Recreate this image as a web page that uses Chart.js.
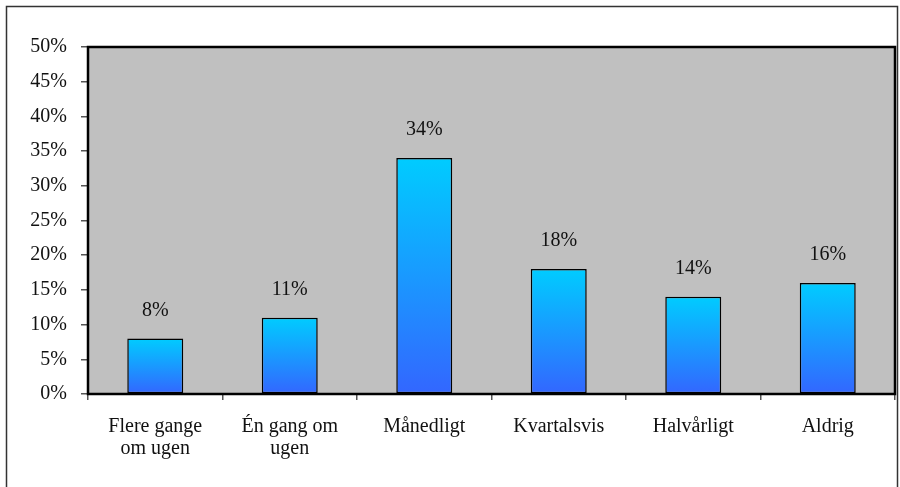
<!DOCTYPE html>
<html>
<head>
<meta charset="utf-8">
<script src="https://cdn.jsdelivr.net/npm/chart.js@4/dist/chart.umd.min.js"></script>
<style>
  html, body { margin: 0; padding: 0; background: #fff; }
  #wrap { width: 900px; height: 487px; }
</style>
</head>
<body>
<div id="wrap"><canvas id="freqChart" width="900" height="487"></canvas></div>
<script>
const categories = [['Flere gange', 'om ugen'], ['Én gang om', 'ugen'], 'Månedligt', 'Kvartalsvis', 'Halvårligt', 'Aldrig'];
const shares = [8, 11, 34, 18, 14, 16];
const yTicks = [0, 5, 10, 15, 20, 25, 30, 35, 40, 45, 50];

const FONT = "'Liberation Serif', 'DejaVu Serif', serif";

// gray plot area, black frame, outer border and value labels
const framePlugin = {
  id: 'frame',
  beforeDraw(chart) {
    const { ctx, chartArea: a } = chart;
    ctx.save();
    ctx.fillStyle = '#fff';
    ctx.fillRect(0, 0, chart.width, chart.height);
    ctx.strokeStyle = '#333';
    ctx.lineWidth = 1.5;
    ctx.strokeRect(6.5, 6.5, 891, 500);
    ctx.fillStyle = '#c0c0c0';
    ctx.fillRect(a.left, a.top, a.right - a.left, a.bottom - a.top);
    ctx.restore();
  },
  afterDatasetsDraw(chart) {
    const { ctx, chartArea: a } = chart;
    ctx.save();
    ctx.strokeStyle = '#000';
    ctx.lineWidth = 2.5;
    ctx.strokeRect(a.left, a.top, a.right - a.left, a.bottom - a.top);
    ctx.fillStyle = '#111';
    ctx.font = '20px ' + FONT;
    ctx.textAlign = 'center';
    ctx.textBaseline = 'middle';
    chart.getDatasetMeta(0).data.forEach((bar, i) => {
      ctx.fillText(shares[i] + '%', bar.x, bar.y - 28);
    });
    ctx.restore();
  }
};

new Chart(document.getElementById('freqChart'), {
  type: 'bar',
  data: {
    labels: categories,
    datasets: [{
      data: shares,
      backgroundColor: (c) => {
        const chart = c.chart;
        const yScale = chart.scales.y;
        if (!yScale || c.raw === undefined) return '#1aa0ff';
        const top = yScale.getPixelForValue(c.raw);
        const bottom = yScale.getPixelForValue(0);
        if (!isFinite(top) || !isFinite(bottom) || top === bottom) return '#1aa0ff';
        const g = chart.ctx.createLinearGradient(0, top, 0, bottom);
        g.addColorStop(0, '#00ccff');
        g.addColorStop(1, '#3366ff');
        return g;
      },
      borderColor: '#000',
      borderWidth: 1.5,
      borderSkipped: false,
      categoryPercentage: 1,
      barPercentage: 0.416
    }]
  },
  options: {
    responsive: false,
    animation: false,
    layout: { padding: { top: 47, right: 5, left: 0, bottom: 0 } },
    plugins: { legend: { display: false }, tooltip: { enabled: false } },
    scales: {
      y: {
        min: 0,
        max: 50,
        afterBuildTicks: (s) => { s.ticks = yTicks.map(v => ({ value: v })); },
        afterFit: (s) => { s.width = 88; },
        grid: { drawOnChartArea: false, drawTicks: true, tickLength: 7, color: '#555', lineWidth: 1.5 },
        border: { display: false },
        ticks: {
          padding: 14,
          color: '#111',
          font: { family: FONT, size: 20 },
          callback: (v) => v + '%'
        }
      },
      x: {
        afterFit: (s) => { s.height = 93; },
        grid: { offset: true, drawOnChartArea: false, drawTicks: true, tickLength: 6, color: '#555', lineWidth: 1.5 },
        border: { display: false },
        ticks: {
          padding: 16,
          color: '#111',
          maxRotation: 0,
          autoSkip: false,
          font: { family: FONT, size: 20, lineHeight: 22 / 20 }
        }
      }
    }
  },
  plugins: [framePlugin]
});
</script>
</body>
</html>
